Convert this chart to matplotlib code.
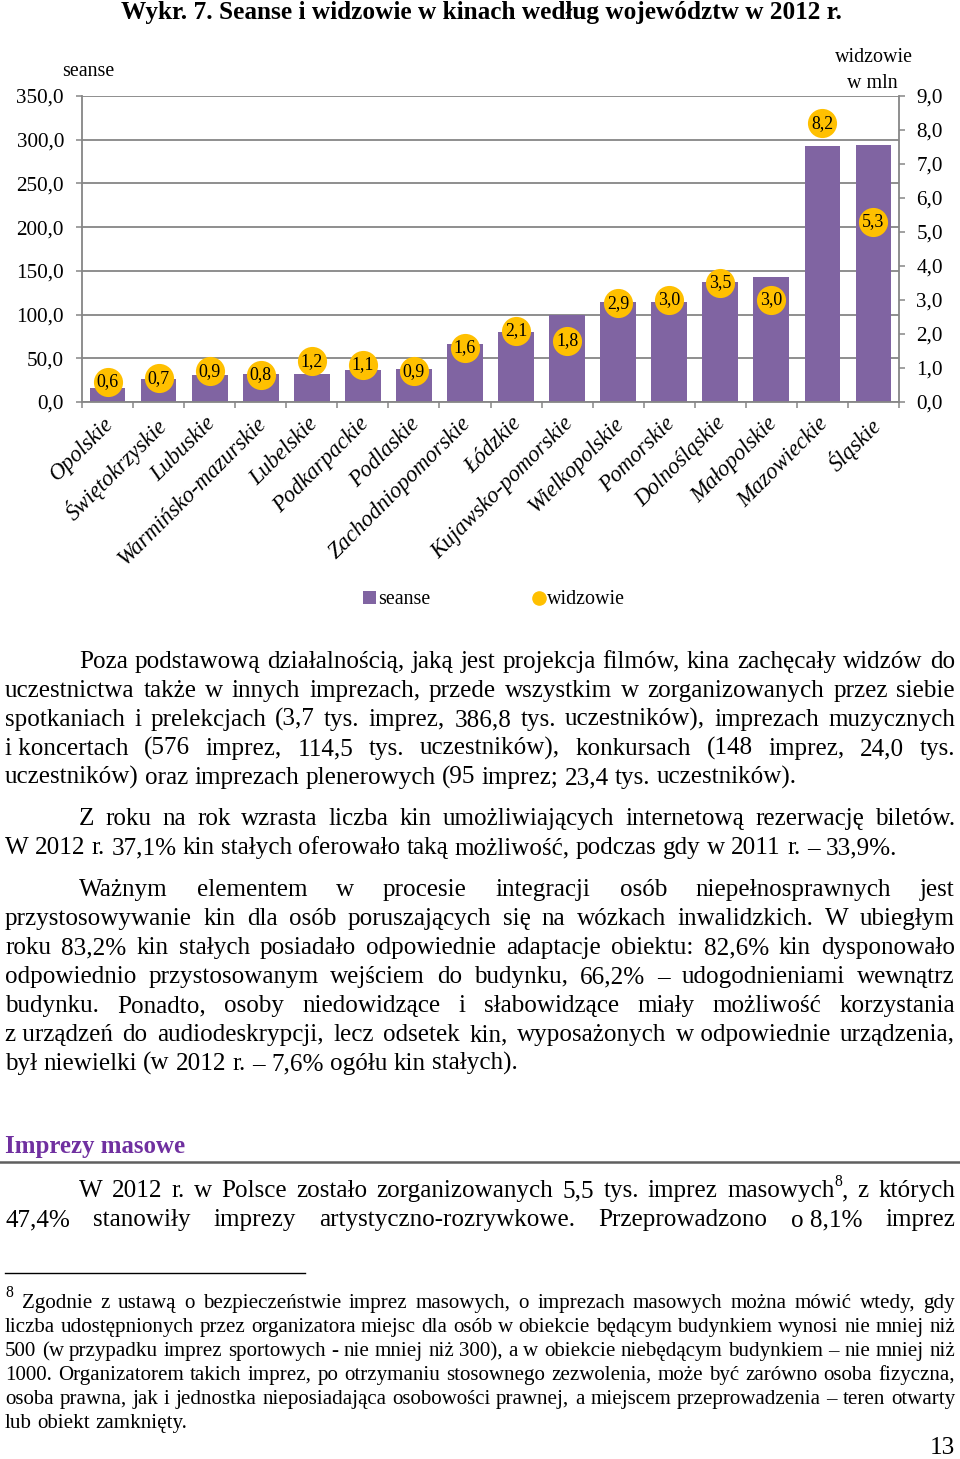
import matplotlib
matplotlib.use('Agg')
import matplotlib.pyplot as plt
from matplotlib.ticker import FixedLocator, FuncFormatter
from matplotlib.patches import Patch
from matplotlib.lines import Line2D
import matplotlib.transforms as mtransforms

# ---------------- data ----------------
regions = ['Opolskie', 'Świętokrzyskie', 'Lubuskie', 'Warmińsko-mazurskie',
           'Lubelskie', 'Podkarpackie', 'Podlaskie', 'Zachodniopomorskie',
           'Łódzkie', 'Kujawsko-pomorskie', 'Wielkopolskie', 'Pomorskie',
           'Dolnośląskie', 'Małopolskie', 'Mazowieckie', 'Śląskie']
seanse = [16.1, 26.8, 30.6, 32.5, 32.5, 36.3, 37.5, 66.6,
          80.3, 99.8, 114.0, 114.0, 137.0, 142.7, 292.3, 294.2]
widzowie = [0.6, 0.7, 0.9, 0.8, 1.2, 1.1, 0.9, 1.6,
            2.1, 1.8, 2.9, 3.0, 3.5, 3.0, 8.2, 5.3]
left_ticks = [0, 50, 100, 150, 200, 250, 300, 350]
right_ticks = [0, 1, 2, 3, 4, 5, 6, 7, 8, 9]

title = 'Wykr. 7. Seanse i widzowie w kinach według województw w 2012 r.'
para1 = ['Poza podstawową działalnością, jaką jest projekcja filmów, kina zachęcały widzów do',
         'uczestnictwa także w innych imprezach, przede wszystkim w zorganizowanych przez siebie',
         'spotkaniach i prelekcjach (3,7 tys. imprez, 386,8 tys. uczestników), imprezach muzycznych',
         'i\u00a0koncertach (576 imprez, 114,5 tys. uczestników), konkursach (148 imprez, 24,0 tys.',
         'uczestników) oraz imprezach plenerowych (95 imprez; 23,4 tys. uczestników).']
para2 = ['Z roku na rok wzrasta liczba kin umożliwiających internetową rezerwację biletów.',
         'W 2012 r. 37,1% kin stałych oferowało taką możliwość, podczas gdy w 2011 r. – 33,9%.']
para3 = ['Ważnym elementem w procesie integracji osób niepełnosprawnych jest',
         'przystosowywanie kin dla osób poruszających się na wózkach inwalidzkich. W ubiegłym',
         'roku 83,2% kin stałych posiadało odpowiednie adaptacje obiektu: 82,6% kin dysponowało',
         'odpowiednio przystosowanym wejściem do budynku, 66,2% – udogodnieniami wewnątrz',
         'budynku. Ponadto, osoby niedowidzące i słabowidzące miały możliwość korzystania',
         'z\u00a0urządzeń do audiodeskrypcji, lecz odsetek kin, wyposażonych w\u00a0odpowiednie urządzenia,',
         'był niewielki (w 2012 r. – 7,6% ogółu kin stałych).']
heading = 'Imprezy masowe'
para4 = ['W 2012 r. w Polsce zostało zorganizowanych 5,5 tys. imprez masowych^8, z których',
         '47,4% stanowiły imprezy artystyczno-rozrywkowe. Przeprowadzono o\u00a08,1% imprez']
foot = ['Zgodnie z ustawą o bezpieczeństwie imprez masowych, o imprezach masowych można mówić wtedy, gdy',
        'liczba udostępnionych przez organizatora miejsc dla osób w obiekcie będącym budynkiem wynosi nie mniej niż',
        '500 (w przypadku imprez sportowych - nie mniej niż 300), a w obiekcie niebędącym budynkiem – nie mniej niż',
        '1000. Organizatorem takich imprez, po otrzymaniu stosownego zezwolenia, może być zarówno osoba fizyczna,',
        'osoba prawna, jak i jednostka nieposiadająca osobowości prawnej, a miejscem przeprowadzenia – teren otwarty',
        'lub obiekt zamknięty.']

# ---------------- setup ----------------
W, H, DPI = 960, 1459, 100
SERIF = 'Liberation Serif'
BAR = '#8064A2'
GOLD = '#FFC000'
GRID = '#868686'

fig = plt.figure(figsize=(W / DPI, H / DPI), dpi=DPI)
fig.patch.set_facecolor('white')
renderer = fig.canvas.get_renderer()


def fx(x):
    return x / W


def fy(y):
    return 1 - y / H


_cache = {}


def px_w(s, size, **kw):
    key = (s, round(size, 3), tuple(sorted(kw.items())))
    if key in _cache:
        return _cache[key]
    t = fig.text(0, 0, s, fontsize=size, family=SERIF, **kw)
    w = t.get_window_extent(renderer).width
    t.remove()
    _cache[key] = w
    return w


def fit(s, target, **kw):
    return 10 * target / px_w(s, 10, **kw)


def fmt(v, pos=None):
    return f'{v:.1f}'.replace('.', ',')


# font sizes derived from target widths in the reference
f_tick = fit('350,0', 47)
f_lab = fit('Warmińsko-mazurskie', 200, style='italic')
f_circ = fit('0,6', 22)
f_leg = fit('widzowie', 78)

# ---------------- chart ----------------
ax = fig.add_axes([fx(82), fy(402), (899 - 82) / W, (402 - 96) / H])
x = list(range(len(regions)))
ax.bar(x, seanse, width=0.7, color=BAR, zorder=2)
ax.set_xlim(-0.5, len(regions) - 0.5)
ax.set_ylim(0, 350)
ax.yaxis.set_major_locator(FixedLocator(left_ticks))
ax.yaxis.set_major_formatter(FuncFormatter(fmt))
ax.yaxis.grid(True, color=GRID, lw=1.3, zorder=0)
ax.set_axisbelow(True)
for sp in ['top', 'right']:
    ax.spines[sp].set_visible(False)
for sp in ['left', 'bottom']:
    ax.spines[sp].set_color(GRID)
    ax.spines[sp].set_linewidth(1.3)
ax.tick_params(axis='y', which='major', direction='out', length=4.5, width=1.1,
               color=GRID, pad=8.5, labelsize=f_tick)
for t in ax.get_yticklabels():
    t.set_family(SERIF)

ax.set_xticks(x)
ax.set_xticklabels(regions)
ax.set_xticks([i - 0.5 for i in range(len(regions) + 1)], minor=True)
ax.tick_params(axis='x', which='major', length=0, pad=8)
ax.tick_params(axis='x', which='minor', direction='out', length=4.5, width=1.1, color=GRID)
offset = mtransforms.ScaledTranslation(-5 / DPI, 0, fig.dpi_scale_trans)
for t in ax.get_xticklabels():
    t.set_family(SERIF)
    t.set_style('italic')
    t.set_fontsize(f_lab)
    t.set_rotation(45)
    t.set_ha('right')
    t.set_va('top')
    t.set_rotation_mode('anchor')
    t.set_transform(t.get_transform() + offset)

ax2 = ax.twinx()
ax2.set_ylim(0, 9)
ax2.yaxis.set_major_locator(FixedLocator(right_ticks))
ax2.yaxis.set_major_formatter(FuncFormatter(fmt))
for sp in ['top', 'left', 'bottom']:
    ax2.spines[sp].set_visible(False)
ax2.spines['right'].set_color(GRID)
ax2.spines['right'].set_linewidth(1.3)
ax2.tick_params(axis='y', direction='out', length=4.5, width=1.1, color=GRID,
                pad=8, labelsize=f_tick)
for t in ax2.get_yticklabels():
    t.set_family(SERIF)

ax2.scatter(x, widzowie, s=440, color=GOLD, zorder=4, linewidths=0)
for xi, v in zip(x, widzowie):
    ax2.text(xi, v, fmt(v), ha='center', va='center', fontsize=f_circ,
             family=SERIF, zorder=5)

fig.text(fx(62), fy(71), 'seanse', ha='left', va='center', fontsize=f_leg, family=SERIF)
fig.text(fx(874), fy(57), 'widzowie', ha='center', va='center', fontsize=f_leg, family=SERIF)
fig.text(fx(898), fy(83), 'w mln', ha='right', va='center', fontsize=f_leg, family=SERIF)

handles = [Patch(facecolor=BAR, edgecolor='none'),
           Line2D([], [], marker='o', ls='', color=GOLD, markersize=9.5)]
leg = fig.legend(handles, ['seanse', 'widzowie'], loc='center',
                 bbox_to_anchor=(fx(494), fy(600)), ncol=2, frameon=False,
                 prop={'family': SERIF, 'size': f_leg}, handlelength=0.65,
                 handleheight=0.65, handletextpad=0.08, columnspacing=5.1,
                 borderpad=0, borderaxespad=0)

# ---------------- title ----------------
f_title = fit(title, 723, weight='bold')
fig.text(fx(481), fy(12), title, ha='center', va='center', fontsize=f_title,
         family=SERIF, weight='bold')

# ---------------- body text ----------------
f_body = (fit(para1[-1], 793) + fit(para2[-1], 896) + fit(para3[-1], 512)) / 3
f_foot = fit(foot[-2], 942)
L, R, IND = 5, 955, 79


def segments(word, size):
    word = word.replace('\u00a0', ' ')
    if '^' in word:
        pre, rest = word.split('^', 1)
        return [(pre, size, 0.0), (rest[0], size * 0.62, size * 0.42), (rest[1:], size, 0.0)]
    return [(word, size, 0.0)]


def draw_line(text, x0, x1, yb, size, justify, **kw):
    words = text.split(' ')
    segs = [segments(w, size) for w in words]
    widths = [sum(px_w(t, s, **kw) for t, s, _ in sg if t) for sg in segs]
    space = px_w('a a', size, **kw) - px_w('aa', size, **kw)
    if justify and len(words) > 1:
        gap = (x1 - x0 - sum(widths)) / (len(words) - 1)
    else:
        gap = space
    xc = x0
    for sg, w in zip(segs, widths):
        xx = xc
        for t, s, dy in sg:
            if t:
                fig.text(fx(xx), fy(yb - dy * DPI / 72), t, fontsize=s, family=SERIF,
                         ha='left', va='baseline', **kw)
                xx += px_w(t, s, **kw)
        xc += w + gap


def draw_par(lines, y0, step, size, indent=IND, last_justified=False):
    for i, line in enumerate(lines):
        x0 = L + (indent - L if i == 0 else 0)
        just = (i < len(lines) - 1) or last_justified
        draw_line(line, x0, R, y0 + i * step, size, justify=just)


draw_par(para1, 668, 29, f_body)
draw_par(para2, 825, 29, f_body)
draw_par(para3, 896, 29, f_body)

f_head = fit(heading, 181, weight='bold')
fig.text(fx(5), fy(1153), heading, ha='left', va='baseline', fontsize=f_head,
         family=SERIF, weight='bold', color='#7030A0')
fig.add_artist(Line2D([0, 1], [fy(1162), fy(1162)], color='#5f5f5f', lw=1.8))

draw_par(para4, 1197, 29, f_body, last_justified=True)

# footnote
fig.add_artist(Line2D([fx(5), fx(305)], [fy(1273), fy(1273)], color='black', lw=1.0))
fig.text(fx(5), fy(1297), '8', ha='left', va='baseline', fontsize=f_foot * 0.75, family=SERIF)
for i, line in enumerate(foot):
    x0 = 22 if i == 0 else L
    draw_line(line, x0, R, 1308 + i * 24, f_foot, justify=(i < len(foot) - 1))

fig.text(fx(955), fy(1454), '13', ha='right', va='baseline', fontsize=f_body, family=SERIF)

fig.savefig('out.png', dpi=DPI, facecolor='white')
